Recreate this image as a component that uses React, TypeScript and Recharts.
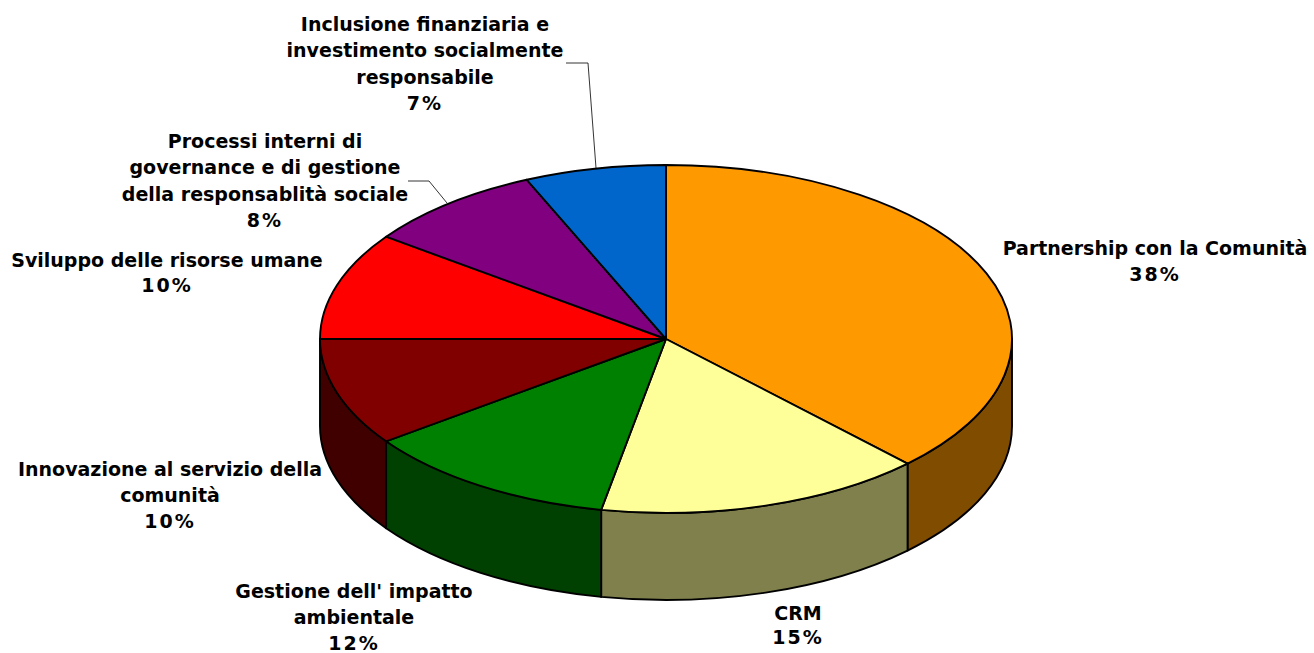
import { Pie, PieChart } from "recharts";

// ─── Data ───

const categories = [
  ["Partnership con la Comunità"],
  ["CRM"],
  ["Gestione dell' impatto", "ambientale"],
  ["Innovazione al servizio della", "comunità"],
  ["Sviluppo delle risorse umane"],
  ["Processi interni di", "governance e di gestione", "della responsablità sociale"],
  ["Inclusione finanziaria e", "investimento socialmente", "responsabile"],
];
const values = [37.7, 15.3, 12, 10, 10, 8.4, 6.6];
const topColors = ["#FF9900", "#FFFF99", "#008000", "#800000", "#FF0000", "#800080", "#0066CC"];
const wallColors = ["#804D00", "#80804D", "#004000", "#400000", "#800000", "#400040", "#003366"];

const tableData = categories.map((lines, i) => ({
  name: lines.join(" "),
  value: values[i],
  fill: topColors[i],
  wall: wallColors[i],
  lines,
}));

// ─── Layout ───

const CX = 666;
const CY = 339;
const RX = 346;
const TILT = 174 / 346;
const DEPTH = 87;

// center x, first baseline and line gap of each label
const labelAnchors = [
  { x: 1155, y: 255, gap: 26 },
  { x: 798, y: 620, gap: 24 },
  { x: 354, y: 598, gap: 26 },
  { x: 170, y: 476, gap: 26 },
  { x: 167, y: 267, gap: 25 },
  { x: 265, y: 148, gap: 26.3 },
  { x: 425, y: 31, gap: 26.3 },
];

const leaderLines: Record<number, string> = {
  5: "408,181 429,181 447,203",
  6: "566,63 588,63 596,168",
};

// ─── Tilted slice ───

// angle is clockwise from 12 o'clock, in degrees
function rimPoint(angle: number, rx: number, ry: number, cx: number, cy: number) {
  const a = (angle * Math.PI) / 180;
  return { x: cx + rx * Math.sin(a), y: cy - ry * Math.cos(a) };
}

function TiltedSlice(props: any) {
  const { cx, cy, outerRadius, startAngle, endAngle, fill, payload } = props;
  const rx = outerRadius;
  const ry = outerRadius * TILT;
  const from = 90 - startAngle;
  const to = 90 - endAngle;
  const a = rimPoint(from, rx, ry, cx, cy);
  const b = rimPoint(to, rx, ry, cx, cy);
  const large = to - from > 180 ? 1 : 0;
  const top = `M${cx},${cy} L${a.x},${a.y} A${rx},${ry} 0 ${large} 1 ${b.x},${b.y} Z`;

  // only the front half of the rim shows a wall
  const wallFrom = Math.max(from, 90);
  const wallTo = Math.min(to, 270);
  let wall = null;
  if (wallFrom < wallTo) {
    const p = rimPoint(wallFrom, rx, ry, cx, cy);
    const q = rimPoint(wallTo, rx, ry, cx, cy);
    wall = (
      <path
        d={`M${p.x},${p.y} A${rx},${ry} 0 0 1 ${q.x},${q.y} L${q.x},${q.y + DEPTH} A${rx},${ry} 0 0 0 ${p.x},${p.y + DEPTH} Z`}
        fill={payload?.wall ?? props.wall}
        stroke="#000"
        strokeWidth={1.9}
        strokeLinejoin="round"
      />
    );
  }

  return (
    <g>
      {wall}
      <path d={top} fill={fill} stroke="#000" strokeWidth={1.9} strokeLinejoin="round" />
    </g>
  );
}

// ─── Labels ───

function SliceLabel(props: any) {
  const { index } = props;
  const anchor = labelAnchors[index];
  const names = categories[index];
  const percent = `${Math.round(values[index])}%`;
  return (
    <g>
      {leaderLines[index] && (
        <polyline points={leaderLines[index]} fill="none" stroke="#000" strokeWidth={0.8} />
      )}
      <text
        textAnchor="middle"
        fontFamily="'DejaVu Sans', sans-serif"
        fontWeight="bold"
        fontSize={19}
        fill="#000"
      >
        {names.map((row, i) => (
          <tspan key={i} x={anchor.x} y={anchor.y + i * anchor.gap}>
            {row}
          </tspan>
        ))}
        <tspan x={anchor.x} y={anchor.y + names.length * anchor.gap} letterSpacing={2}>
          {percent}
        </tspan>
      </text>
    </g>
  );
}

export default function App() {
  return (
    <div style={{ position: "absolute", left: 0, top: 0, width: 1314, height: 653, background: "#fff" }}>
      <PieChart width={1314} height={653} margin={{ top: 0, right: 0, bottom: 0, left: 0 }}>
        <Pie
          data={tableData}
          dataKey="value"
          nameKey="name"
          cx={CX}
          cy={CY}
          outerRadius={RX}
          startAngle={90}
          endAngle={-270}
          paddingAngle={0}
          shape={TiltedSlice}
          label={SliceLabel}
          labelLine={false}
          isAnimationActive={false}
        />
      </PieChart>
    </div>
  );
}
